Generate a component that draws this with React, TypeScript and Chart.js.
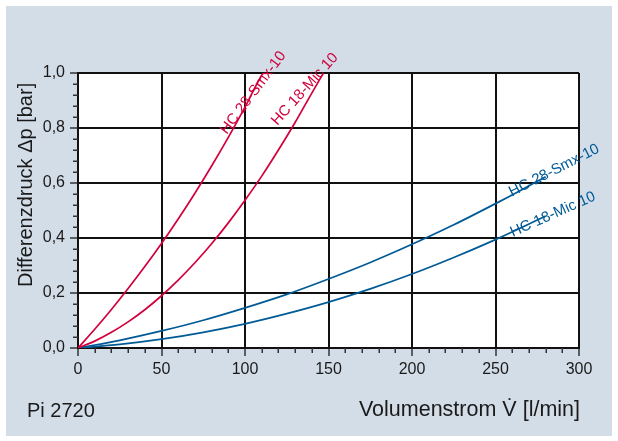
import React, { useEffect, useRef } from "react";
import { Chart, registerables } from "chart.js";
Chart.register(...registerables);

// ---- data ----
const flowRed28 = [0, 10, 20, 30, 40, 50, 60, 70, 80, 90, 100, 110, 111];
const dpRed28 = [0, 0.068, 0.14, 0.216, 0.296, 0.38, 0.469, 0.563, 0.662, 0.766, 0.876, 0.992, 1.0];

const flowRed18 = [0, 10, 20, 30, 40, 50, 60, 70, 80, 90, 100, 110, 120, 130, 140, 147];
const dpRed18 = [0, 0.025, 0.057, 0.095, 0.139, 0.19, 0.247, 0.31, 0.379, 0.455, 0.537, 0.625, 0.72, 0.82, 0.927, 1.0];

const flowBlue = [0, 25, 50, 75, 100, 125, 150, 175, 200, 225, 250, 265, 280];
const dpBlue28 = [0, 0.028, 0.062, 0.101, 0.146, 0.195, 0.251, 0.311, 0.377, 0.448, 0.525, 0.573, 0.623];
const dpBlue18 = [0, 0.013, 0.032, 0.057, 0.088, 0.125, 0.167, 0.215, 0.269, 0.329, 0.394, 0.436, 0.48];

const curveLabels = ["HC 28-Smx-10", "HC 18-Mic 10", "HC 28-Smx-10", "HC 18-Mic 10"];
const labelFlow = [89, 119.3, 259.8, 260.3];
const labelDp = [0.775, 0.807, 0.55, 0.404];
const labelAngle = [-53, -48, -27, -24];

const xTitle = "Volumenstrom V\u0307 [l/min]";
const yTitle = "Differenzdruck \u0394p [bar]";
const footNote = "Pi 2720";

const RED = "rgb(210, 0, 60)";
const BLUE = "rgb(0, 90, 150)";
const FONT = "'Liberation Sans', Arial, sans-serif";
const labelColors = [RED, RED, BLUE, BLUE];

const toXY = (xs: number[], ys: number[]) => xs.map((x, i) => ({ x, y: ys[i] }));

export default function App() {
  const ref = useRef<HTMLCanvasElement>(null);
  useEffect(() => {
    const overlay = {
      id: "overlay",
      beforeDraw(chart: any) {
        const { ctx, chartArea: a } = chart;
        ctx.save();
        ctx.fillStyle = "#fff";
        ctx.fillRect(a.left, a.top, a.right - a.left, a.bottom - a.top);
        ctx.restore();
      },
      afterDraw(chart: any) {
        const ctx = chart.ctx as CanvasRenderingContext2D;
        const xs = chart.scales.x;
        const ys = chart.scales.y;
        const a = chart.chartArea;
        ctx.save();
        // minor ticks
        ctx.strokeStyle = "#333";
        ctx.lineWidth = 1.5;
        ctx.beginPath();
        for (let v = 10; v < 300; v += 10) {
          if (v % 50 === 0) continue;
          const px = Math.round(xs.getPixelForValue(v)) + 0.25;
          ctx.moveTo(px, a.bottom);
          ctx.lineTo(px, a.bottom + 5);
        }
        for (let i = 1; i < 25; i++) {
          if (i % 5 === 0) continue;
          const py = Math.round(ys.getPixelForValue(i * 0.04)) + 0.25;
          ctx.moveTo(a.left, py);
          ctx.lineTo(a.left - 5, py);
        }
        ctx.stroke();

        // curve labels
        ctx.font = `15px ${FONT}`;
        ctx.textAlign = "left";
        ctx.textBaseline = "alphabetic";
        curveLabels.forEach((t, i) => {
          ctx.save();
          ctx.translate(xs.getPixelForValue(labelFlow[i]), ys.getPixelForValue(labelDp[i]));
          ctx.rotate((labelAngle[i] * Math.PI) / 180);
          ctx.fillStyle = labelColors[i];
          ctx.fillText(t, 0, 0);
          ctx.restore();
        });

        // titles
        ctx.fillStyle = "#1a1a1a";
        ctx.font = `21.5px ${FONT}`;
        ctx.textAlign = "right";
        ctx.fillText(xTitle, a.right + 1, 416);
        ctx.textAlign = "left";
        ctx.font = `20px ${FONT}`;
        ctx.fillText(footNote, 27, 417);
        ctx.save();
        ctx.translate(32, 287);
        ctx.rotate(-Math.PI / 2);
        ctx.fillText(yTitle, 0, 0);
        ctx.restore();
        ctx.restore();
      },
    };

    const ds = (data: any, color: string) => ({
      data,
      borderColor: color,
      borderWidth: 1.7,
      pointRadius: 0,
      fill: false,
      cubicInterpolationMode: "monotone" as const,
    });

    const chart = new Chart(ref.current!, {
      type: "line",
      data: {
        datasets: [
          ds(toXY(flowRed28, dpRed28), RED),
          ds(toXY(flowRed18, dpRed18), RED),
          ds(toXY(flowBlue, dpBlue28), BLUE),
          ds(toXY(flowBlue, dpBlue18), BLUE),
        ],
      },
      options: {
        animation: false,
        responsive: false,
        maintainAspectRatio: false,
        devicePixelRatio: 1,
        events: [],
        layout: { padding: { left: 0, top: 73, right: 39, bottom: 0 } },
        plugins: { legend: { display: false }, tooltip: { enabled: false } },
        scales: {
          x: {
            type: "linear",
            min: 0,
            max: 300,
            afterFit(scale: any) {
              scale.height = 93;
            },
            ticks: {
              stepSize: 50,
              padding: 4,
              color: "#1a1a1a",
              font: { family: FONT, size: 16 },
              maxRotation: 0,
            },
            grid: { color: "#111", lineWidth: 2, tickLength: 8, tickColor: "#333", tickWidth: 1.5 },
            border: { display: true, color: "#111", width: 2 },
          },
          y: {
            type: "linear",
            min: 0,
            max: 1,
            afterFit(scale: any) {
              scale.width = 78;
            },
            ticks: {
              stepSize: 0.2,
              padding: 5,
              color: "#1a1a1a",
              font: { family: FONT, size: 16 },
              callback: (v: any) => Number(v).toFixed(1).replace(".", ","),
            },
            grid: { color: "#111", lineWidth: 2, tickLength: 8, tickColor: "#333", tickWidth: 1.5 },
            border: { display: true, color: "#111", width: 2 },
          },
        },
      },
      plugins: [overlay],
    });
    return () => chart.destroy();
  }, []);

  return (
    <div style={{ position: "fixed", left: 0, top: 0, width: 618, height: 441, background: "#fff" }}>
      <div style={{ position: "absolute", left: 6, top: 6, width: 606, height: 430, background: "rgb(211,221,232)" }} />
      <canvas ref={ref} width={618} height={441} style={{ position: "absolute", left: 0, top: 0 }} />
    </div>
  );
}
